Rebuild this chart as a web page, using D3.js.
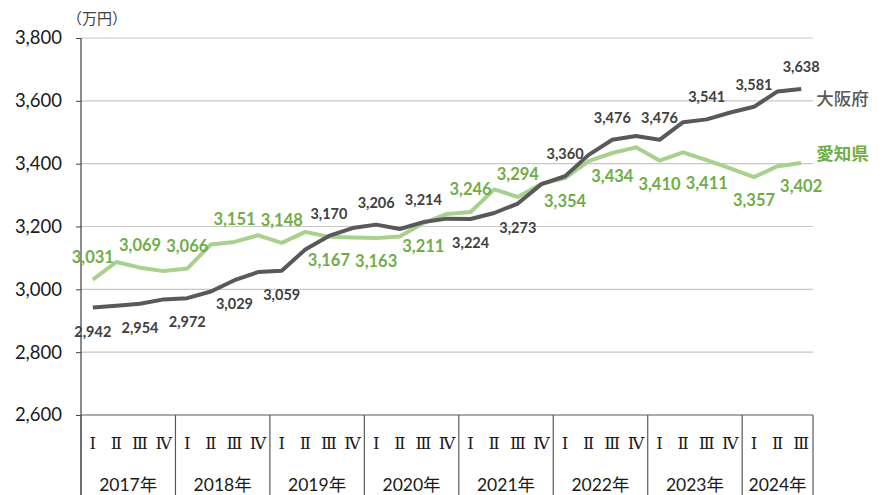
<!DOCTYPE html>
<html>
<head>
<meta charset="utf-8">
<script src="https://cdn.jsdelivr.net/npm/d3@7"></script>
<style>
  body { margin: 0; background: #fff; }
  svg { display: block; }
</style>
</head>
<body>
<script>
// years on the x axis and quarter names
var years = ["2017年", "2018年", "2019年", "2020年", "2021年", "2022年", "2023年", "2024年"];
var quarterNames = ["Ⅰ", "Ⅱ", "Ⅲ", "Ⅳ"];
var quartersPerYear = [4, 4, 4, 4, 4, 4, 4, 3];

// y axis ticks
var yTicks = [2600, 2800, 3000, 3200, 3400, 3600, 3800];

// series values (万円), quarterly 2017 I .. 2024 III
var osaka = [2942, 2948, 2954, 2968, 2972, 2993, 3029, 3055, 3059, 3127, 3170, 3195,
             3206, 3192, 3214, 3225, 3224, 3243, 3273, 3335, 3360, 3428, 3476, 3488,
             3476, 3532, 3541, 3563, 3581, 3630, 3638];
var aichi = [3031, 3087, 3069, 3058, 3066, 3143, 3151, 3172, 3148, 3183, 3167, 3165,
             3163, 3168, 3211, 3240, 3246, 3318, 3294, 3336, 3354, 3408, 3434, 3452,
             3410, 3436, 3411, 3385, 3357, 3392, 3402];

var seriesNames = ["大阪府", "愛知県"];
var unitLabel = "（万円）";

// build the list of periods
var periods = [];
years.forEach(function(y, yi) {
    for (var q = 0; q < quartersPerYear[yi]; q++) {
        periods.push({ year: y, yi: yi, q: quarterNames[q], i: periods.length });
    }
});

var width = 883, height = 495;
var margin = { top: 38, right: 70, bottom: 80, left: 81 };
var plotRight = width - margin.right;
var plotBottom = height - margin.bottom;

var svg = d3.select("body")
    .append("svg")
    .attr("width", width)
    .attr("height", height);

// scales
var xScale = d3.scaleBand()
    .domain(periods.map(function(d) { return d.i; }))
    .range([margin.left, plotRight])
    .padding(0);

var yScale = d3.scaleLinear()
    .domain([2600, 3800])
    .range([plotBottom, margin.top]);

function cx(i) { return xScale(i) + xScale.bandwidth() / 2; }

// gridlines
svg.append("g")
   .selectAll("line")
   .data(yTicks.filter(function(t) { return t > 2600; }))
   .enter()
   .append("line")
   .attr("x1", margin.left)
   .attr("x2", plotRight)
   .attr("y1", function(d) { return yScale(d); })
   .attr("y2", function(d) { return yScale(d); })
   .attr("stroke", "#c8c8c8")
   .attr("stroke-width", 1.2);

// y axis
var yAxis = d3.axisLeft(yScale)
    .tickValues(yTicks)
    .tickSize(5)
    .tickPadding(14)
    .tickFormat(d3.format(","));

var yg = svg.append("g")
    .attr("transform", "translate(" + margin.left + ",0)")
    .call(yAxis);
yg.select(".domain").remove();
yg.selectAll(".tick line").attr("stroke", "#404040");
yg.selectAll("text")
  .attr("fill", "#1a1a1a")
  .style("font-family", "Lato, 'Open Sans', sans-serif")
  .style("font-size", "18.5px");

// vertical axis line down to the bottom of the table
svg.append("line")
   .attr("x1", margin.left).attr("x2", margin.left)
   .attr("y1", margin.top).attr("y2", height)
   .attr("stroke", "#404040")
   .attr("stroke-width", 1.2);

// bottom axis line
svg.append("line")
   .attr("x1", margin.left).attr("x2", plotRight)
   .attr("y1", plotBottom).attr("y2", plotBottom)
   .attr("stroke", "#595959")
   .attr("stroke-width", 1.2);

// unit label
svg.append("text")
   .attr("x", 67)
   .attr("y", 24)
   .attr("fill", "#404040")
   .style("font-family", "'Noto Sans CJK JP', sans-serif")
   .style("font-size", "15px")
   .text(unitLabel);

// year separators and year labels
var yearStart = [];
periods.forEach(function(p) {
    if (p.q === quarterNames[0]) yearStart.push(p);
});

svg.append("g")
   .selectAll("line")
   .data(yearStart.map(function(p) { return p.i; }).concat([periods.length]))
   .enter()
   .append("line")
   .attr("x1", function(i) { return i < periods.length ? xScale(i) : plotRight; })
   .attr("x2", function(i) { return i < periods.length ? xScale(i) : plotRight; })
   .attr("y1", plotBottom)
   .attr("y2", height)
   .attr("stroke", "#595959")
   .attr("stroke-width", 1.2);

svg.append("g")
   .selectAll("text")
   .data(yearStart)
   .enter()
   .append("text")
   .attr("x", function(p) {
       var n = quartersPerYear[p.yi];
       return xScale(p.i) + n * xScale.bandwidth() / 2;
   })
   .attr("y", 491)
   .attr("text-anchor", "middle")
   .attr("fill", "#1a1a1a")
   .style("font-family", "Lato, 'Noto Sans CJK JP', sans-serif")
   .style("font-size", "17.5px")
   .text(function(p) { return p.year; });

// quarter labels
svg.append("g")
   .selectAll("text")
   .data(periods)
   .enter()
   .append("text")
   .attr("x", function(p) { return cx(p.i); })
   .attr("y", 449)
   .attr("text-anchor", "middle")
   .attr("fill", "#1a1a1a")
   .style("font-family", "'DejaVu Serif', 'Noto Sans CJK JP', serif")
   .style("font-size", "16.5px")
   .text(function(p) { return p.q; });

// lines
var line = d3.line()
    .x(function(d, i) { return cx(i); })
    .y(function(d) { return yScale(d); });

var series = [
    { name: seriesNames[0], values: osaka, other: aichi, stroke: "#595959",
      label: "#404040", nameColor: "#595959", size: 14.5, nameDy: 16 },
    { name: seriesNames[1], values: aichi, other: osaka, stroke: "#a9d18e",
      label: "#70ad47", nameColor: "#70ad47", size: 16.5, nameDy: -3 }
];

// draw green first so grey sits on top
series.slice().reverse().forEach(function(s) {
    svg.append("path")
       .datum(s.values)
       .attr("fill", "none")
       .attr("stroke", s.stroke)
       .attr("stroke-width", 4)
       .attr("stroke-linejoin", "round")
       .attr("d", line);
});

// value labels on every other quarter; above if this series is higher
series.forEach(function(s) {
    svg.append("g")
       .selectAll("text")
       .data(s.values.map(function(v, i) { return { v: v, i: i, o: s.other[i] }; })
                     .filter(function(d) { return d.i % 2 === 0; }))
       .enter()
       .append("text")
       .attr("x", function(d) { return cx(d.i); })
       .attr("y", function(d) {
           return d.v >= d.o ? yScale(d.v) - 17 : yScale(d.v) + 29;
       })
       .attr("text-anchor", "middle")
       .attr("fill", s.label)
       .style("font-family", "Lato, 'Open Sans', sans-serif")
       .style("font-weight", "bold")
       .style("font-size", s.size + "px")
       .text(function(d) { return d3.format(",")(d.v); });

    // series name at the end of the line
    var last = s.values.length - 1;
    svg.append("text")
       .attr("x", cx(last) + 15)
       .attr("y", yScale(s.values[last]) + s.nameDy)
       .attr("fill", s.nameColor)
       .style("font-family", "'Noto Sans CJK JP', sans-serif")
       .style("font-weight", s.name === seriesNames[1] ? "bold" : "500")
       .style("font-size", "17.5px")
       .text(s.name);
});
</script>
</body>
</html>
